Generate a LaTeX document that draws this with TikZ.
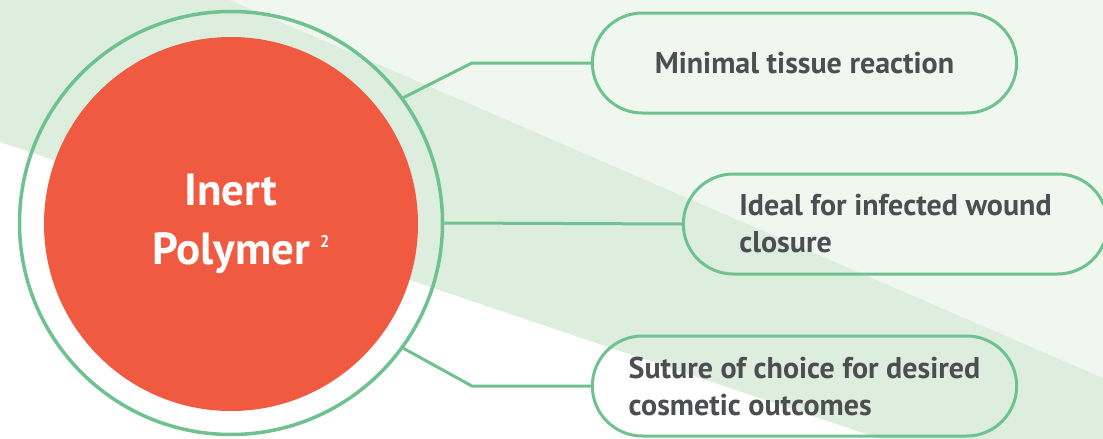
\documentclass[tikz,border=0pt]{standalone}
\usepackage{fontspec}
\setmainfont{PT Sans}
\usetikzlibrary{shapes.misc}
\definecolor{suturered}{HTML}{F05A41}
\definecolor{suturegreen}{HTML}{6FC290}
\definecolor{bandlight}{HTML}{EFF7EE}
\definecolor{bandmid}{HTML}{DDEEDF}
\definecolor{labelgrey}{HTML}{4D4E52}
\tikzset{
	link/.style={draw=suturegreen,line width=3pt},
	pill/.style={rounded rectangle,draw=suturegreen,line width=3pt,minimum width=431pt,minimum height=100pt,align=left,text=labelgrey,font=\fontsize{30}{37}\selectfont\bfseries},
}
\begin{document}
\begin{tikzpicture}[x=1pt,y=-1pt]
	\useasboundingbox (0,0) rectangle (1103,439);
	% background bands
	\fill[white] (0,0) rectangle (1103,439);
	\fill[bandmid] (0,0) -- (1103,0) -- (1103,439) -- (881,439) -- (0,142) -- cycle;
	\fill[bandlight] (230,0) -- (1103,0) -- (1103,378) -- cycle;
	% 
	\node[circle,draw=suturegreen,line width=3.5pt,minimum size=423pt,inner sep=0pt] (ring) at (231,223) {};
	\node[circle,fill=suturered,minimum size=374pt,inner sep=0pt,align=center,text=white,font=\fontsize{45}{59}\selectfont\bfseries] (polymer) at (231,224) {Inert\\Polymer\rlap{\hspace{10pt}\raisebox{17pt}{\fontsize{17}{17}\selectfont 2}}};
	% 
	\node[pill] (minimal) at (804.5,63) {Minimal tissue reaction};
	\node[pill] (infected) at (895.5,224) {Ideal for infected wound\\closure};
	\node[pill] (cosmetic) at (804.5,386) {Suture of choice for desired\\cosmetic outcomes};
	% 
	\draw[link] (ring.36) -- ([xshift=-119pt]minimal.west) -- (minimal.west);
	\draw[link] (ring.east) -- (infected.west);
	\draw[link] (ring.-36) -- ([xshift=-119pt]cosmetic.west) -- (cosmetic.west);
\end{tikzpicture}
\end{document}
